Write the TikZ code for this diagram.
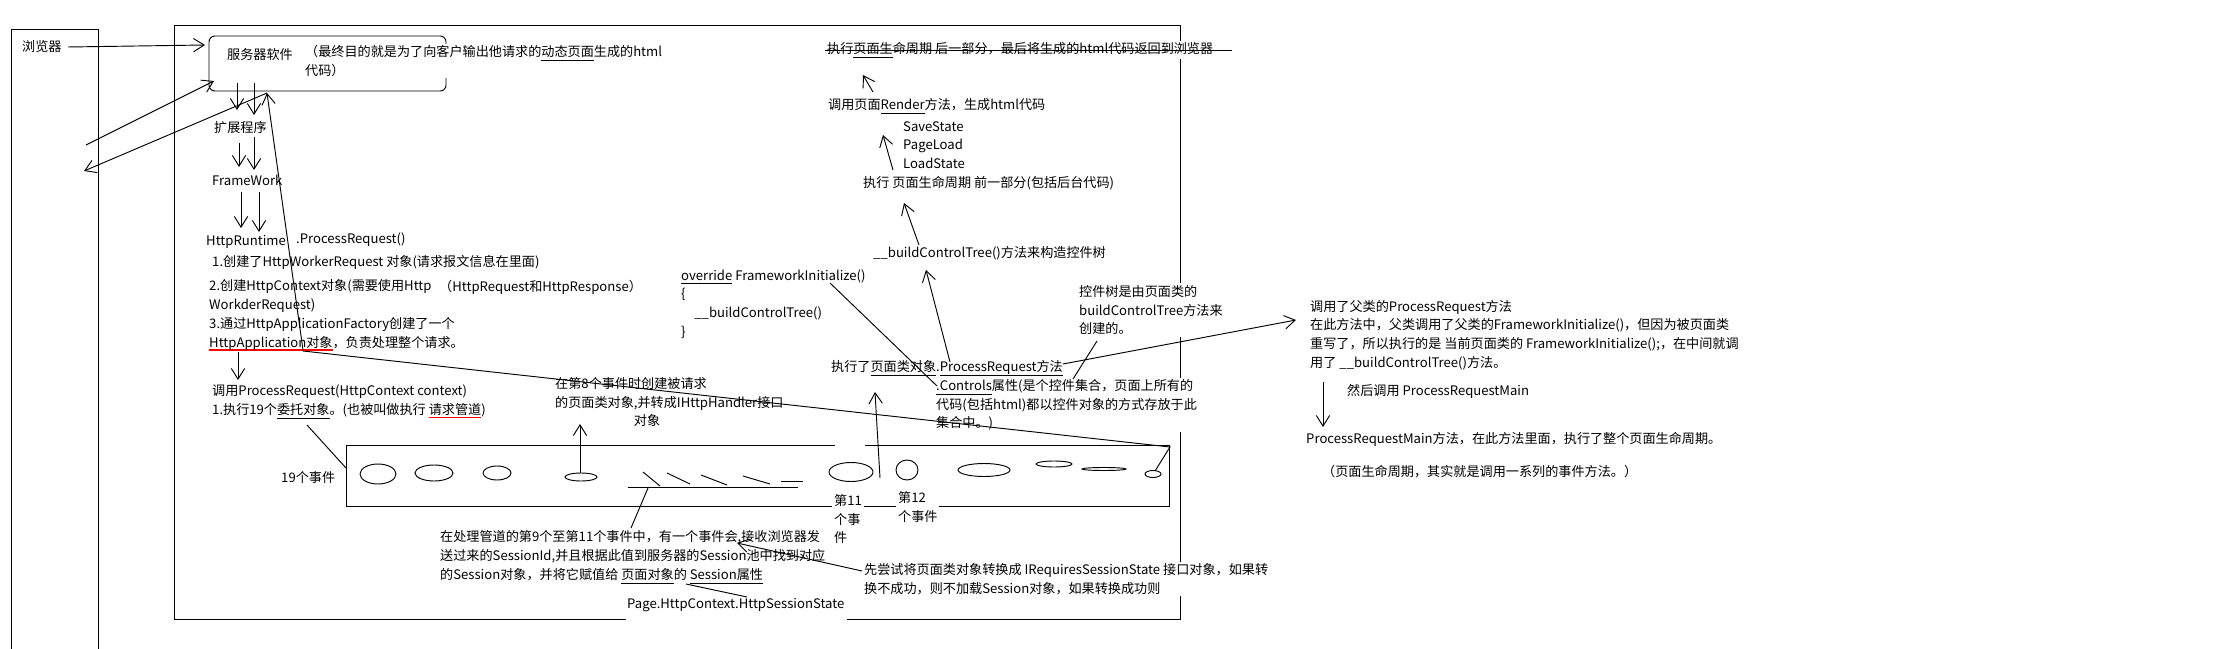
\documentclass[tikz,border=0pt]{standalone}
\usepackage{fontspec}
\setmainfont{Noto Sans CJK SC}
\usetikzlibrary{arrows.meta}

\newcommand\ulred[1]{\setbox0\hbox{#1}\rlap{\color{red}\rule[-3pt]{\wd0}{1.3pt}}\box0}
\newcommand\ulblk[1]{\setbox0\hbox{#1}\rlap{\rule[-3.5pt]{\wd0}{0.7pt}}\box0}

\begin{document}
\begin{tikzpicture}[x=0.3mm, y=-0.3mm, line width=0.8pt,
  every node/.style={fill=white, inner sep=1.5pt, anchor=west, align=left, font=\fontsize{11.2}{16}\selectfont},
  barb/.style={-{Straight Barb[length=3.2mm,width=4mm]}}]
\useasboundingbox (0,0) rectangle (2218,649);

% frames
\draw (11,649) -- (11,29) -- (98,29) -- (98,649);
\draw (626,619) -- (174,619) -- (174,25) -- (1180,25) -- (1180,619) -- (847,619);
\draw[rounded corners=5] (209,36) rectangle (446,91);

% pipeline with the 19 events
\draw (835,445) -- (346,445) -- (346,506) -- (1169,506) -- (1169,445) -- (865,445);
\draw (378,474) ellipse [x radius=18, y radius=10];
\draw (434,473) ellipse [x radius=19, y radius=8];
\draw (497,473) ellipse [x radius=14, y radius=7];
\draw (581,477) ellipse [x radius=16, y radius=4];
\draw (643,472) -- (660,486);
\draw (667,473) -- (690,484);
\draw (701,475) -- (727,485);
\draw (743,476) -- (770,484);
\draw (781,481) -- (803,481);
\draw (628,487) -- (798,487);
\draw (851,472) ellipse [x radius=22, y radius=9.5];
\draw (907,470) ellipse [x radius=11, y radius=10];
\draw (984,470) ellipse [x radius=26, y radius=6.5];
\draw (1054,464) ellipse [x radius=18, y radius=3];
\draw (1104,469) ellipse [x radius=22, y radius=1.5];
\draw (1153,474) ellipse [x radius=8, y radius=3.5];

% left column
\node (browser) at (20,47) {浏览器};
\node (server) at (225,55) {服务器软件};
\node (goal) at (303,61) {（最终目的就是为了向客户输出他请求的\ulblk{动态页面}生成的html\\代码）};
\node (ext) at (212,128) {扩展程序};
\node (fw) at (210,180) {FrameWork};
\node (runtime) at (204,242) {HttpRuntime};
\node (pr) at (294,240) {.ProcessRequest()};
\node (step1) at (210,262) {1.创建了HttpWorkerRequest 对象(请求报文信息在里面)};
\node (step2) at (207,296) {2.创建HttpContext对象(需要使用Http\\WorkderRequest)};
\node (step2b) at (437,287) {（HttpRequest和HttpResponse）};
\node (step3) at (207,334) {3.通过HttpApplicationFactory创建了一个\\\ulred{HttpApplication对象}，负责处理整个请求。};
\node (call) at (210,402) {调用ProcessRequest(HttpContext context)\\1.执行19个\ulblk{委托对象}。(也被叫做执行 \ulred{请求管道})};
\node (ev19) at (279,478) {19个事件};
\node (page8) at (553,402) {在第8个事件时创建被请求\\的页面类对象,并转成IHttpHandler接口\\\hphantom{的页面类对象}对象};
\node (ev11) at (832,519) {第11\\个事\\件};
\node (ev12) at (896,507) {第12\\个事件};
\node (sess) at (438,557) {在处理管道的第9个至第11个事件中，有一个事件会,接收浏览器发\\送过来的SessionId,并且根据此值到服务器的Session池中找到对应\\的Session对象，并将它赋值给 \ulblk{页面对象}的 \ulblk{Session属性}};
\node (pagestate) at (625,605) {Page.HttpContext.HttpSessionState};
\node (try) at (862,579) {先尝试将页面类对象转换成 IRequiresSessionState 接口对象，如果转\\换不成功，则不加载Session对象，如果转换成功则};

% page life cycle
\node (last) at (825,50) {执行\ulblk{页面生}命周期 后一部分，最后将生成的html代码返回到浏览器};
\node (render) at (826,106) {调用页面\ulblk{Render}方法，生成html代码};
\node (states) at (901,145) {SaveState\\PageLoad\\LoadState};
\node (front) at (861,183) {执行 页面生命周期 前一部分(包括后台代码)};
\node (bct) at (871,253) {\_\_buildControlTree()方法来构造控件树};
\node (fwinit) at (679,304) {\ulblk{override}\ FrameworkInitialize()\\\{\\\quad\_\_buildControlTree()\\\}};
\node (exec) at (829,368) {执行了\ulblk{页面类对象}.\ulblk{ProcessRequest方法}};
\node (ctrl) at (934,405) {\ulblk{.Controls}属性(是个控件集合，页面上所有的\\代码(包括html)都以控件对象的方式存放于此\\集合中。)};
\node (tree) at (1077,310) {控件树是由页面类的\\buildControlTree方法来\\创建的。};

% right column
\node (parent) at (1308,335) {调用了父类的ProcessRequest方法\\在此方法中，父类调用了父类的FrameworkInitialize()，但因为被页面类\\重写了，所以执行的是 当前页面类的 FrameworkInitialize();，在中间就调\\用了 \_\_buildControlTree()方法。};
\node (then) at (1345,391) {然后调用 ProcessRequestMain};
\node (main) at (1304,439) {ProcessRequestMain方法，在此方法里面，执行了整个页面生命周期。};
\node (note) at (1320,472) {（页面生命周期，其实就是调用一系列的事件方法。）};

% browser <-> server
\coordinate (b1) at (68,47);
\coordinate (s1) at (205,45);
\coordinate (b2) at (86,145);
\coordinate (s2) at (214,81);
\coordinate (s3) at (267,93);
\coordinate (b3) at (84,171);
\coordinate (app) at (303,350);
\draw[barb] (b1) -- (s1);
\draw[barb] (b2) -- (s2);
\draw[barb] (s3) -- (b3);
\draw[barb] (app) -- (s3);

% server -> extension -> framework -> runtime
\coordinate (d1) at (237,83);
\coordinate (d1e) at (237,110);
\coordinate (d2) at (254,83);
\coordinate (d2e) at (254,115);
\coordinate (d3) at (239,143);
\coordinate (d3e) at (239,167);
\coordinate (d4) at (254,137);
\coordinate (d4e) at (254,170);
\coordinate (d5) at (241,192);
\coordinate (d5e) at (241,228);
\coordinate (d6) at (259,192);
\coordinate (d6e) at (259,232);
\draw[barb] (d1) -- (d1e);
\draw[barb] (d2) -- (d2e);
\draw[barb] (d3) -- (d3e);
\draw[barb] (d4) -- (d4e);
\draw[barb] (d5) -- (d5e);
\draw[barb] (d6) -- (d6e);

% application -> pipeline
\coordinate (a1) at (238,352);
\coordinate (a1e) at (238,380);
\coordinate (a2) at (303,351);
\coordinate (corner) at (1170,447);
\coordinate (e19) at (1155,471);
\coordinate (dl) at (307,425);
\coordinate (dle) at (346,468);
\draw[barb] (a1) -- (a1e);
\draw (a2) -- (corner) -- (e19);
\draw (dl) -- (dle);

% events
\coordinate (e8) at (580,473);
\coordinate (e8e) at (580,424);
\coordinate (e9) at (648,488);
\coordinate (e9e) at (631,528);
\coordinate (e11) at (880,478);
\coordinate (e11e) at (875,392);
\draw[barb] (e8) -- (e8e);
\draw (e9) -- (e9e);
\draw[barb] (e11) -- (e11e);

% life cycle arrows
\coordinate (f1) at (830,283);
\coordinate (f1e) at (937,386);
\coordinate (p1) at (950,362);
\coordinate (p1e) at (926,270);
\coordinate (p2) at (919,245);
\coordinate (p2e) at (904,203);
\coordinate (p3) at (893,170);
\coordinate (p3e) at (883,135);
\coordinate (p4) at (873,92);
\coordinate (p4e) at (863,75);
\coordinate (t1) at (1097,341);
\coordinate (t1e) at (1073,379);
\coordinate (strike) at (1232,50);
\draw (f1) -- (f1e);
\draw[barb] (p1) -- (p1e);
\draw[barb] (p2) -- (p2e);
\draw[barb] (p3) -- (p3e);
\draw[barb] (p4) -- (p4e);
\draw (t1) -- (t1e);
\draw (last.west) -- (strike);

% to the right column
\coordinate (r1) at (1063,364);
\coordinate (r1e) at (1296,320);
\coordinate (r2) at (1323,382);
\coordinate (r2e) at (1323,427);
\draw[barb] (r1) -- (r1e);
\draw[barb] (r2) -- (r2e);

% session
\coordinate (q1) at (862,571);
\coordinate (q1e) at (737,543);
\coordinate (q2) at (686,584);
\coordinate (q2e) at (747,597);
\draw[barb] (q1) -- (q1e);
\draw (q2) -- (q2e);
\end{tikzpicture}
\end{document}
